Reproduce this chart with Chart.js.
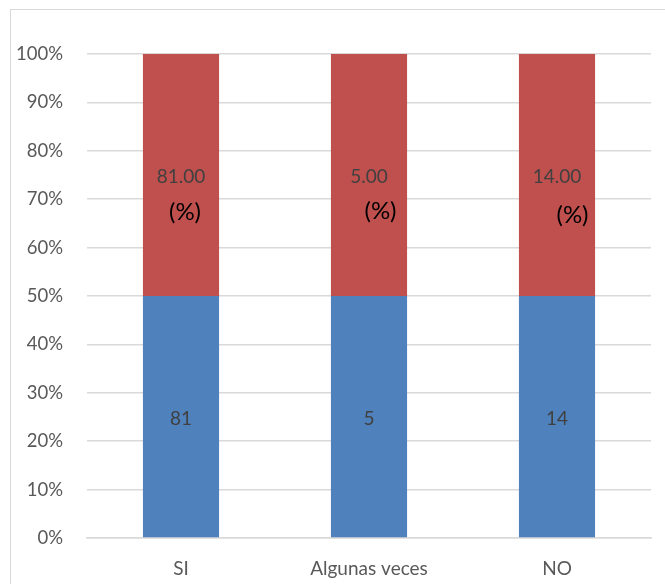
<!DOCTYPE html>
<html>
<head>
<meta charset="utf-8">
<script src="https://cdn.jsdelivr.net/npm/chart.js@4"></script>
<style>
  html, body { margin: 0; padding: 0; background: #fff; overflow: hidden; }
  body { width: 665px; height: 584px; position: relative; }
  #frame { position: absolute; left: 10px; top: 9px; width: 700px; height: 620px; border: 1.5px solid #d9d9d9; }
  #wrap { position: absolute; left: 0; top: 0; width: 665px; height: 584px; }
</style>
</head>
<body>
<div id="frame"></div>
<div id="wrap"><canvas id="chart"></canvas></div>
<script>
// Stacked 100% column chart: count vs percent per answer
const categories = ['SI', 'Algunas veces', 'NO'];
const counts = [81, 5, 14];
const percents = [81.00, 5.00, 14.00];
const yTicks = [0, 10, 20, 30, 40, 50, 60, 70, 80, 90, 100];

// each bar is normalised to 100% (like Excel's 100% stacked column)
const share = (a, b) => a.map((v, i) => v / (v + b[i]) * 100);
const countShare = share(counts, percents);
const percentShare = share(percents, counts);

const FONT = 'Lato, "Open Sans", sans-serif';

// draws the values inside each segment plus the "(%)" notes
const labelPlugin = {
  id: 'segLabels',
  afterDatasetsDraw(chart, args, opts) {
    const ctx = chart.ctx;
    ctx.save();
    ctx.textAlign = 'center';
    ctx.textBaseline = 'middle';
    ctx.font = '19px ' + FONT;
    ctx.fillStyle = '#404040';
    const raw = [counts, percents];
    chart.data.datasets.forEach((ds, di) => {
      chart.getDatasetMeta(di).data.forEach((bar, i) => {
        const mid = (bar.y + bar.base) / 2 + 2;
        const v = raw[di][i];
        ctx.fillText(di === 1 ? v.toFixed(2) : String(v), bar.x, mid);
      });
    });
    // "(%)" marks sit a little below/right of the percent value
    ctx.font = '24px ' + FONT;
    ctx.fillStyle = '#000';
    const y = chart.scales.y;
    chart.getDatasetMeta(1).data.forEach((bar, i) => {
      const n = opts.notes[i];
      ctx.fillText('(%)', bar.x + n.dx, y.getPixelForValue(n.at));
    });
    ctx.restore();
  }
};

new Chart(document.getElementById('chart'), {
  type: 'bar',
  data: {
    labels: categories,
    datasets: [
      { label: 'n', data: countShare, backgroundColor: '#4f81bd' },
      { label: '%', data: percentShare, backgroundColor: '#c0504d' }
    ]
  },
  options: {
    responsive: true,
    maintainAspectRatio: false,
    animation: false,
    layout: { padding: { top: 54, right: 14, left: 0, bottom: 0 } },
    barPercentage: 0.405,
    categoryPercentage: 1,
    plugins: {
      legend: { display: false },
      tooltip: { enabled: false },
      segLabels: {
        notes: [{ dx: 4, at: 67.3 }, { dx: 11.5, at: 67.6 }, { dx: 15.5, at: 66.6 }]
      }
    },
    scales: {
      x: {
        stacked: true,
        grid: { display: false, drawTicks: false },
        border: { display: true, color: '#d9d9d9', width: 1.5 },
        ticks: { color: '#595959', font: { family: FONT, size: 19 }, padding: 19 },
        afterFit: s => { s.height = 46; }
      },
      y: {
        stacked: true,
        min: 0,
        max: 100,
        afterBuildTicks: s => { s.ticks = yTicks.map(v => ({ value: v })); },
        grid: { color: '#d9d9d9', lineWidth: 1.5, drawTicks: false },
        border: { display: false },
        ticks: {
          color: '#595959',
          font: { family: FONT, size: 18.5 },
          padding: 24,
          callback: v => v + '%'
        },
        afterFit: s => { s.width = 87; }
      }
    }
  },
  plugins: [labelPlugin]
});
</script>
</body>
</html>
